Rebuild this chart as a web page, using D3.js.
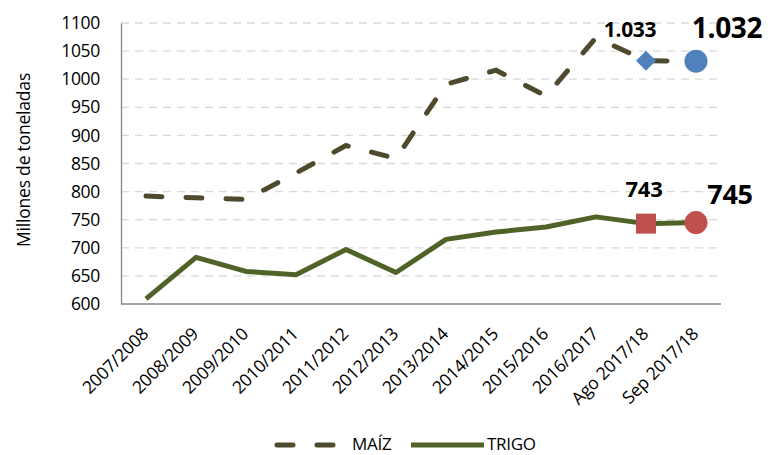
<!DOCTYPE html>
<html><head><meta charset="utf-8">
<script src="https://d3js.org/d3.v7.min.js"></script>
<style>body{margin:0;background:#fff;} text{font-family:"Open Sans","Noto Sans",sans-serif;}</style>
</head><body>
<svg id="c" width="778" height="455"></svg>
<script>
const categories = ["2007/2008","2008/2009","2009/2010","2010/2011","2011/2012","2012/2013","2013/2014","2014/2015","2015/2016","2016/2017","Ago 2017/18","Sep 2017/18"];
const maiz  = [792, 789, 786, 833, 882, 859, 991, 1016, 970, 1074, 1033, 1032];
const trigo = [609, 683, 658, 652, 697, 656, 715, 728, 737, 755, 743, 745];
const yTicks = [600,650,700,750,800,850,900,950,1000,1050,1100];

const svg = d3.select("#c");
const L=121, R=721, T=23, B=304;
const x = d3.scalePoint().domain(categories).range([L,R]).padding(0.5);
const y = d3.scaleLinear().domain([600,1100]).range([B,T]);

// gridlines
svg.append("g").selectAll("line").data(yTicks.filter(d=>d>600)).join("line")
  .attr("x1",L).attr("x2",R).attr("y1",d=>y(d)).attr("y2",d=>y(d))
  .attr("stroke","#d9d9d9").attr("stroke-width",1.3).attr("stroke-dasharray","8,6");

// axes
const ya = svg.append("g").attr("transform",`translate(${L},0)`)
  .call(d3.axisLeft(y).tickValues(yTicks).tickFormat(d3.format("d")).tickSize(0).tickPadding(21));
ya.select(".domain").attr("stroke","#868686").attr("stroke-width",1.3);
ya.selectAll("text").attr("font-size",17.5).attr("fill","#000").attr("font-family","'Open Sans',sans-serif").attr("letter-spacing","-0.3");

const xa = svg.append("g").attr("transform",`translate(0,${B})`)
  .call(d3.axisBottom(x).tickSize(0).tickPadding(0));
xa.select(".domain").attr("stroke","#868686").attr("stroke-width",1.3).attr("d",`M${L},0H${R}`);
xa.selectAll("text").attr("font-size",17.5).attr("fill","#000")
  .attr("font-family","'Open Sans',sans-serif").attr("letter-spacing","-0.2")
  .attr("text-anchor","end").attr("dy",0)
  .attr("transform","translate(3,31) rotate(-45)");

svg.append("text").attr("transform","translate(30,160) rotate(-90)")
  .attr("text-anchor","middle").attr("font-size",17.5).attr("letter-spacing","-0.2").text("Millones de toneladas");

const line = d3.line().x((d,i)=>x(categories[i])).y(d=>y(d));
svg.append("path").datum(maiz).attr("d",line).attr("fill","none")
  .attr("stroke","#4F4A2E").attr("stroke-width",5).attr("stroke-linecap","round")
  .attr("stroke-dasharray","16,24");
svg.append("path").datum(trigo).attr("d",line).attr("fill","none")
  .attr("stroke","#4F6228").attr("stroke-width",5).attr("stroke-linejoin","round");

// markers
const ia=10, is=11;
svg.append("path").attr("d",d3.symbol(d3.symbolSquare, 200)())
  .attr("transform",`translate(${x(categories[ia])},${y(maiz[ia])}) rotate(45)`).attr("fill","#4F81BD");
svg.append("circle").attr("cx",x(categories[is])).attr("cy",y(maiz[is])).attr("r",11.5).attr("fill","#4F81BD");
svg.append("rect").attr("x",x(categories[ia])-10).attr("y",y(trigo[ia])-10).attr("width",20).attr("height",20).attr("fill","#C0504D");
svg.append("circle").attr("cx",x(categories[is])).attr("cy",y(trigo[is])).attr("r",11.5).attr("fill","#C0504D");

// data labels
const fmt = v => v>=1000 ? d3.format(",")(v).replace(",",".") : String(v);
function label(cx, by, size, v){
  svg.append("text").attr("x",cx).attr("y",by).attr("text-anchor","middle")
    .attr("font-size",size).attr("font-weight","bold").attr("letter-spacing","-0.3").text(fmt(v));
}
label(x(categories[ia])-16, y(maiz[ia])-24, 21, maiz[ia]);
label(x(categories[is])+31, y(maiz[is])-23, 28, maiz[is]);
label(x(categories[ia])-2, y(trigo[ia])-27, 22, trigo[ia]);
label(x(categories[is])+34, y(trigo[is])-19, 27, trigo[is]);

// legend
const lg = svg.append("g");
lg.append("line").attr("x1",277).attr("x2",337).attr("y1",445).attr("y2",445)
  .attr("stroke","#4F4A2E").attr("stroke-width",5).attr("stroke-linecap","round").attr("stroke-dasharray","16,24");
lg.append("text").attr("x",352).attr("y",450).attr("font-size",17).attr("letter-spacing","-0.3").text("MAÍZ");
lg.append("line").attr("x1",411).attr("x2",484).attr("y1",445).attr("y2",445)
  .attr("stroke","#4F6228").attr("stroke-width",5);
lg.append("text").attr("x",487).attr("y",450).attr("font-size",17).attr("letter-spacing","-0.3").text("TRIGO");
</script>
</body></html>
